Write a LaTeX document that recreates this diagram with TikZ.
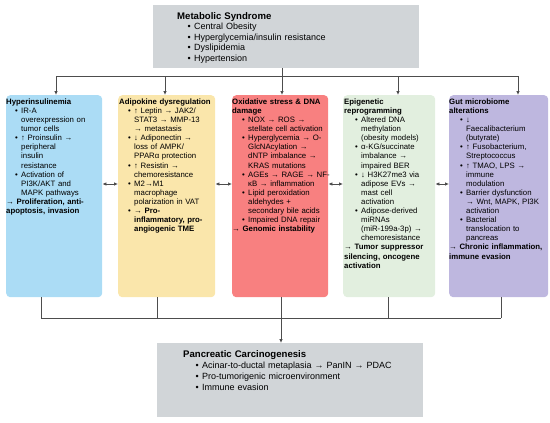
\documentclass[tikz,border=0pt]{standalone}
\usepackage{fontspec}
\setmainfont{Liberation Sans}
\usepackage{enumitem}
\usetikzlibrary{positioning,arrows.meta}

\definecolor{hypblue}{RGB}{171,220,245}
\definecolor{adiyellow}{RGB}{250,230,171}
\definecolor{oxred}{RGB}{248,128,128}
\definecolor{epigreen}{RGB}{226,239,223}
\definecolor{gutpurple}{RGB}{190,183,223}
\definecolor{boxgray}{RGB}{209,213,216}
\definecolor{linegray}{RGB}{77,77,77}

\setlist[itemize]{label=\textbullet,leftmargin=16pt,labelsep=3.4pt,
  itemsep=0pt,parsep=0pt,topsep=0pt,partopsep=0pt}

\tikzset{
  conn/.style={draw=linegray, line width=0.8pt},
  arrowend/.style={-{Latex[length=4pt,width=3.6pt]}},
  bothends/.style={{Latex[length=4pt,width=3.6pt]}-{Latex[length=4pt,width=3.6pt]}},
  colbox/.style={rounded corners=4pt, inner sep=0pt, anchor=north west,
    minimum height=202pt},
  coltext/.style={anchor=north west, inner sep=0pt, text width=#1,
    align=left, font=\fontsize{7.8}{9.1}\selectfont},
  graybox/.style={fill=boxgray, inner sep=0pt, anchor=north west},
  graytext/.style={anchor=north west, inner sep=0pt, text width=#1,
    align=left, font=\fontsize{9}{10.5}\selectfont},
}

\begin{document}
\begin{tikzpicture}[x=1pt,y=-1pt]
    \useasboundingbox (0,0) rectangle (550,423);

    % metabolic syndrome on top
    \node[graybox, minimum width=266pt, minimum height=63pt] (metsyn) at (153,5) {};
    \node[graytext=240pt] (metsyntxt) at (177,12) {%
      {\fontsize{9.6}{10.5}\selectfont\textbf{Metabolic Syndrome}}
      \begin{itemize}[leftmargin=17pt]
        \item Central Obesity
        \item Hyperglycemia/insulin resistance
        \item Dyslipidemia
        \item Hypertension
      \end{itemize}};

    % the five mechanism columns
    \node[colbox, fill=hypblue, minimum width=96pt] (hyper) at (6,95) {};
    \node[colbox, fill=adiyellow, minimum width=97pt] (adipo) at (118,95) {};
    \node[colbox, fill=oxred, minimum width=96pt] (oxid) at (232,95) {};
    \node[colbox, fill=epigreen, minimum width=92pt] (epig) at (343,95) {};
    \node[colbox, fill=gutpurple, minimum width=99pt] (gut) at (449,95) {};

    \node[coltext=104pt] (hypertxt) at (6,98.5) {%
      \textbf{Hyperinsulinemia}
      \begin{itemize}[leftmargin=15pt]
        \item IR-A\newline overexpression on\newline tumor cells
        \item ↑ Proinsulin →\newline peripheral\newline insulin\newline resistance
        \item Activation of\newline PI3K/AKT and\newline MAPK pathways
      \end{itemize}
      \textbf{→ Proliferation, anti-\newline apoptosis, invasion}};

    \node[coltext=104pt] (adipotxt) at (119,98.5) {%
      \textbf{Adipokine dysregulation}
      \begin{itemize}[leftmargin=15pt]
        \item ↑ Leptin → JAK2/\newline STAT3 → MMP-13\newline → metastasis
        \item ↓ Adiponectin →\newline loss of AMPK/\newline PPARα protection
        \item ↑ Resistin →\newline chemoresistance
        \item M2→M1\newline macrophage\newline polarization in VAT
        \item \textbf{→ Pro-\newline inflammatory, pro-\newline angiogenic TME}
      \end{itemize}};

    \node[coltext=104pt] (oxidtxt) at (232,98.5) {%
      \textbf{Oxidative stress \& DNA\newline damage}
      \begin{itemize}
        \item NOX → ROS →\newline stellate cell activation
        \item Hyperglycemia → O-\newline GlcNAcylation →\newline dNTP imbalance →\newline KRAS mutations
        \item AGEs → RAGE → NF-\newline κB → inflammation
        \item Lipid peroxidation\newline aldehydes +\newline secondary bile acids
        \item Impaired DNA repair
      \end{itemize}
      \textbf{→ Genomic instability}};

    \node[coltext=100pt] (epigtxt) at (344,98.5) {%
      \textbf{Epigenetic\newline reprogramming}
      \begin{itemize}[leftmargin=17pt]
        \item Altered DNA\newline methylation\newline (obesity models)
        \item α-KG/succinate\newline imbalance →\newline impaired BER
        \item ↓ H3K27me3 via\newline adipose EVs →\newline mast cell\newline activation
        \item Adipose-derived\newline miRNAs\newline (miR-199a-3p) →\newline chemoresistance
      \end{itemize}
      \textbf{→ Tumor suppressor\newline silencing, oncogene\newline activation}};

    \node[coltext=104pt] (guttxt) at (449,98.5) {%
      \textbf{Gut microbiome\newline alterations}
      \begin{itemize}[leftmargin=17pt]
        \item ↓\newline Faecalibacterium\newline (butyrate)
        \item ↑ Fusobacterium,\newline Streptococcus
        \item ↑ TMAO, LPS →\newline immune\newline modulation
        \item Barrier dysfunction\newline → Wnt, MAPK, PI3K\newline activation
        \item Bacterial\newline translocation to\newline pancreas
      \end{itemize}
      \textbf{→ Chronic inflammation,\newline immune evasion}};

    % pancreatic carcinogenesis at the bottom
    \node[graybox, minimum width=266pt, minimum height=74pt] (pancr) at (157,343) {};
    \node[graytext=230pt, font=\fontsize{9}{11}\selectfont] (pancrtxt) at (183,350.8) {%
      {\fontsize{9.6}{11}\selectfont\textbf{Pancreatic Carcinogenesis}}
      \begin{itemize}[leftmargin=19pt]
        \item Acinar-to-ductal metaplasia → PanIN → PDAC
        \item Pro-tumorigenic microenvironment
        \item Immune evasion
      \end{itemize}};

    % bus lines, top and bottom
    \coordinate (mid) at (0,184);
    \foreach \nm/\xx/\xb in {hyper/56/41, adipo/165/157, oxid/282/281,
                             epig/398/388, gut/518/501}{
      \coordinate (d\nm) at (\xx,76);
      \coordinate (u\nm) at (\xb,318);
    }
    \draw[conn] (metsyn.south -| doxid) -- (doxid);
    \draw[conn] (dhyper) -- (dgut);
    \foreach \nm in {hyper,adipo,oxid,epig,gut}{
      \draw[conn,arrowend] (d\nm) -- (d\nm |- \nm.north);
      \draw[conn] (\nm.south -| u\nm) -- (u\nm);
    }
    \draw[conn] (uhyper) -- (ugut);
    \draw[conn,arrowend] (uoxid) -- (uoxid |- pancr.north);

    % cross talk between neighbours
    \draw[conn,bothends] (hyper.east |- mid) -- (adipo.west |- mid);
    \draw[conn,bothends] (adipo.east |- mid) -- (oxid.west |- mid);
    \draw[conn,bothends] (oxid.east |- mid) -- (epig.west |- mid);
    \draw[conn,bothends] (epig.east |- mid) -- (gut.west |- mid);
\end{tikzpicture}
\end{document}
